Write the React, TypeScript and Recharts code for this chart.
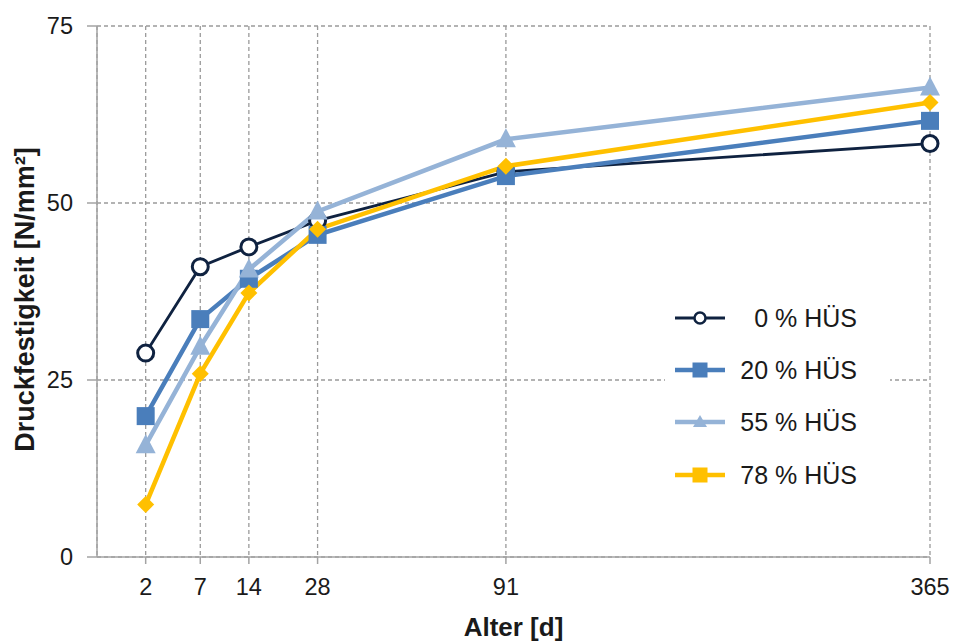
import React from 'react';
import { LineChart, Line, XAxis, YAxis, CartesianGrid, Legend } from 'recharts';

const ages = [2, 7, 14, 28, 91, 365];
const hus0 = [28.8, 41.0, 43.8, 47.5, 54.4, 58.4];
const hus20 = [19.9, 33.6, 39.3, 45.5, 53.8, 61.6];
const hus55 = [15.8, 29.7, 40.6, 48.8, 59.0, 66.3];
const hus78 = [7.4, 25.9, 37.3, 46.3, 55.2, 64.2];
const seriesNames = ['0 % HÜS', '20 % HÜS', '55 % HÜS', '78 % HÜS'];
const yTicks = [0, 25, 50, 75];

const NAVY = '#0f2240';
const BLUE = '#4a7ebb';
const LIGHT = '#95b3d7';
const GOLD = '#ffc000';
const TEXT = '#1a1a1a';
const AXIS = '#a3a3a3';
const FONT = '"Liberation Sans", Arial, sans-serif';

const data = ages.map((a, i) => ({ age: a, s0: hus0[i], s20: hus20[i], s55: hus55[i], s78: hus78[i] }));

const circleDot = (p: any) => (
  <circle key={`c${p.index}`} cx={p.cx} cy={p.cy} r={8} fill="#fff" stroke={NAVY} strokeWidth={3} />
);
const squareDot = (p: any) => (
  <rect key={`s${p.index}`} x={p.cx - 9} y={p.cy - 9} width={18} height={18} fill={BLUE} />
);
const triDot = (p: any) => (
  <polygon
    key={`t${p.index}`}
    points={`${p.cx},${p.cy - 11} ${p.cx + 10},${p.cy + 8} ${p.cx - 10},${p.cy + 8}`}
    fill={LIGHT}
  />
);
const diamondDot = (p: any) => (
  <polygon
    key={`d${p.index}`}
    points={`${p.cx},${p.cy - 8.5} ${p.cx + 8.5},${p.cy} ${p.cx},${p.cy + 8.5} ${p.cx - 8.5},${p.cy}`}
    fill={GOLD}
  />
);

const legendColors = [NAVY, BLUE, LIGHT, GOLD];
const legendMarkers = ['circle', 'square', 'triangle', 'square'];

const LegendIcon = ({ color, marker }: { color: string; marker: string }) => (
  <svg width={50} height={24} style={{ display: 'block' }}>
    <line x1={0} y1={12} x2={50} y2={12} stroke={color} strokeWidth={marker === 'circle' ? 3 : 4.5} />
    {marker === 'circle' && <circle cx={25} cy={12} r={5.5} fill="#fff" stroke={color} strokeWidth={2.5} />}
    {marker === 'square' && <rect x={17.5} y={4.5} width={15} height={15} fill={color} />}
    {marker === 'triangle' && <polygon points="25,5 32,17 18,17" fill={color} />}
  </svg>
);

const renderLegend = () => (
  <div style={{ background: '#fff', width: 225, height: 210, fontFamily: FONT }}>
    {seriesNames.map((n, i) => (
      <div key={n} style={{ height: 52.2, display: 'flex', alignItems: 'center' }}>
        <div style={{ width: 10 }} />
        <LegendIcon color={legendColors[i]} marker={legendMarkers[i]} />
        <div style={{ width: 132, textAlign: 'right', fontSize: 25, color: TEXT, lineHeight: '26px' }}>{n}</div>
      </div>
    ))}
  </div>
);

const YLabel = (props: any) => {
  const vb = props.viewBox || { x: 0, y: 26, width: 97, height: 531 };
  const x = vb.x + 34;
  const y = vb.y + vb.height / 2 + 8;
  return (
    <text
      x={x}
      y={y}
      transform={`rotate(-90, ${x}, ${y})`}
      textAnchor="middle"
      fontFamily={FONT}
      fontWeight="bold"
      fontSize={27}
      fill={TEXT}
    >
      Druckfestigkeit [N/mm²]
    </text>
  );
};

const XLabel = (props: any) => {
  const vb = props.viewBox || { x: 97, y: 557, width: 833, height: 85 };
  return (
    <text
      x={vb.x + vb.width / 2}
      y={vb.y + 79}
      textAnchor="middle"
      fontFamily={FONT}
      fontWeight="bold"
      fontSize={26}
      fill={TEXT}
    >
      Alter [d]
    </text>
  );
};

export default function App() {
  return (
    <div style={{ position: 'absolute', left: 0, top: 0, width: 954, height: 642, background: '#fff' }}>
      <LineChart width={954} height={642} data={data} margin={{ top: 26, right: 24, bottom: 0, left: 0 }}>
        <CartesianGrid stroke="#9a9a9a" strokeWidth={1.3} strokeDasharray="4 3" />
        <XAxis
          dataKey="age"
          type="number"
          scale="sqrt"
          domain={[0.1, 365]}
          ticks={ages}
          interval={0}
          height={85}
          tickSize={7}
          tickMargin={14}
          axisLine={{ stroke: AXIS, strokeWidth: 1.5 }}
          tickLine={{ stroke: AXIS, strokeWidth: 1.5 }}
          tick={{ fill: TEXT, fontSize: 23.5, fontFamily: FONT }}
          label={<XLabel />}
        />
        <YAxis
          type="number"
          domain={[0, 75]}
          ticks={yTicks}
          interval={0}
          width={97}
          tickSize={10}
          tickMargin={14}
          axisLine={{ stroke: AXIS, strokeWidth: 1.5 }}
          tickLine={{ stroke: AXIS, strokeWidth: 1.5 }}
          tick={{ fill: TEXT, fontSize: 23.5, fontFamily: FONT }}
          label={<YLabel />}
        />
        <Legend
          layout="vertical"
          align="center"
          verticalAlign="middle"
          content={renderLegend}
          wrapperStyle={{ position: 'absolute', left: 665, top: 292, width: 225, height: 210 }}
        />
        <Line dataKey="s0" name={seriesNames[0]} stroke={NAVY} strokeWidth={2.8} dot={circleDot} isAnimationActive={false} />
        <Line dataKey="s20" name={seriesNames[1]} stroke={BLUE} strokeWidth={4.5} dot={squareDot} isAnimationActive={false} />
        <Line dataKey="s55" name={seriesNames[2]} stroke={LIGHT} strokeWidth={4.5} dot={triDot} isAnimationActive={false} />
        <Line dataKey="s78" name={seriesNames[3]} stroke={GOLD} strokeWidth={4.5} dot={diamondDot} isAnimationActive={false} />
      </LineChart>
    </div>
  );
}
